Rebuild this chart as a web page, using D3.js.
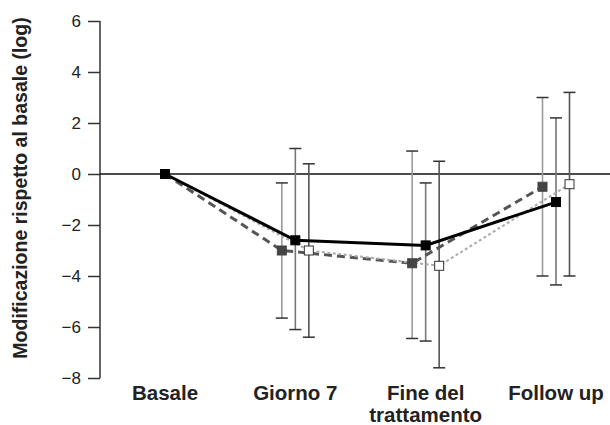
<!DOCTYPE html>
<html>
<head>
<meta charset="utf-8">
<script src="https://cdn.jsdelivr.net/npm/d3@7"></script>
<style>
html,body{margin:0;padding:0;background:#fff;}
svg{display:block;font-family:"Liberation Sans",Arial,Helvetica,sans-serif;}
</style>
</head>
<body>
<svg id="chart" width="610" height="425"></svg>
<script>
// ---- data ----
const categories = ["Basale", "Giorno 7", "Fine del\ntrattamento", "Follow up"];
const yTicks = [-8, -6, -4, -2, 0, 2, 4, 6];
const seriesNames = ["dashed", "solid", "open"];
// mean values
const meanDashed = [0, -3.0, -3.5, -0.5];
const meanSolid  = [0, -2.6, -2.8, -1.1];
const meanOpen   = [0, -3.0, -3.6, -0.4];
// error bar upper / lower (null = none)
const upperDashed = [null, -0.35, 0.9, 3.0];
const lowerDashed = [null, -5.65, -6.45, -4.0];
const upperSolid  = [null, 1.0, -0.35, 2.2];
const lowerSolid  = [null, -6.1, -6.55, -4.35];
const upperOpen   = [null, 0.4, 0.5, 3.2];
const lowerOpen   = [null, -6.4, -7.6, -4.0];

// ---- layout ----
const svg = d3.select("#chart");
const y = d3.scaleLinear().domain([-8, 6]).range([378, 21]);
const x = d3.scalePoint().domain(categories).range([165, 556]);
const off = d3.scaleOrdinal().domain(seriesNames).range([-13.5, 0, 13.5]);

const series = [
  {name: "dashed", mean: meanDashed, up: upperDashed, lo: lowerDashed,
   line: "#555", width: 3, dash: "8,5", fill: "#444", barColor: "#9a9a9a"},
  {name: "open", mean: meanOpen, up: upperOpen, lo: lowerOpen,
   line: "#aaa", width: 2, dash: "3,2.5", fill: "#fff", barColor: "#555"},
  {name: "solid", mean: meanSolid, up: upperSolid, lo: lowerSolid,
   line: "#000", width: 3, dash: null, fill: "#000", barColor: "#777"}
];

function px(s, i) {
  return x(categories[i]) + (i === 0 ? 0 : off(s.name));
}

// y axis
const yAxis = d3.axisLeft(y).tickValues(yTicks).tickSize(12).tickPadding(7)
  .tickFormat(d => d < 0 ? "\u2212" + Math.abs(d) : String(d));
const gy = svg.append("g").attr("transform", "translate(100,0)").call(yAxis);
gy.select(".domain").attr("stroke", "#333").attr("stroke-width", 1.5).attr("d", `M0,${y(6)}V${y(-8)}`);
gy.selectAll(".tick line").attr("stroke", "#333").attr("stroke-width", 1.5);
gy.selectAll(".tick text").attr("fill", "#222").style("font-size", "17px");

// zero line
svg.append("line").attr("x1", 100).attr("x2", 610).attr("y1", y(0)).attr("y2", y(0))
  .attr("stroke", "#111").attr("stroke-width", 1.3);

// y title
svg.append("text")
  .attr("transform", `translate(27,188) rotate(-90)`)
  .attr("text-anchor", "middle")
  .style("font-size", "19.5px").style("font-weight", "bold").attr("fill", "#222")
  .text("Modificazione rispetto al basale (log)");

// x labels
categories.forEach(c => {
  const lines = c.split("\n");
  const t = svg.append("text").attr("text-anchor", "middle")
    .style("font-size", "20.5px").style("font-weight", "bold").attr("fill", "#222");
  lines.forEach((l, k) => {
    t.append("tspan").attr("x", x(c)).attr("y", 400 + k * 21.5).text(l);
  });
});

// error bars
const barOrder = ["dashed", "solid", "open"];
barOrder.forEach(n => {
  const s = series.find(d => d.name === n);
  s.mean.forEach((m, i) => {
    if (s.up[i] === null) return;
    const cx = px(s, i);
    const g = svg.append("g");
    g.append("line").attr("x1", cx).attr("x2", cx).attr("y1", y(s.up[i])).attr("y2", y(s.lo[i]))
      .attr("stroke", s.barColor).attr("stroke-width", 1.6);
    [s.up[i], s.lo[i]].forEach(v => {
      g.append("line").attr("x1", cx - 6).attr("x2", cx + 6).attr("y1", y(v)).attr("y2", y(v))
        .attr("stroke", "#333").attr("stroke-width", 1.5);
    });
  });
});

// lines
const lineGen = s => d3.line().x((d, i) => px(s, i)).y(d => y(d));
series.forEach(s => {
  svg.append("path").datum(s.mean).attr("d", lineGen(s)).attr("fill", "none")
    .attr("stroke", s.line).attr("stroke-width", s.width)
    .attr("stroke-dasharray", s.dash);
});

// markers
const ms = 9;
series.forEach(s => {
  svg.selectAll(null).data(s.mean.map((v, i) => ({v, i})).filter(d => !(d.i === 0 && s.name !== "solid")))
    .enter().append("rect")
    .attr("x", d => px(s, d.i) - ms / 2).attr("y", d => y(d.v) - ms / 2)
    .attr("width", ms).attr("height", ms)
    .attr("fill", s.fill).attr("stroke", s.name === "open" ? "#333" : s.fill).attr("stroke-width", 1);
});
</script>
</body>
</html>
